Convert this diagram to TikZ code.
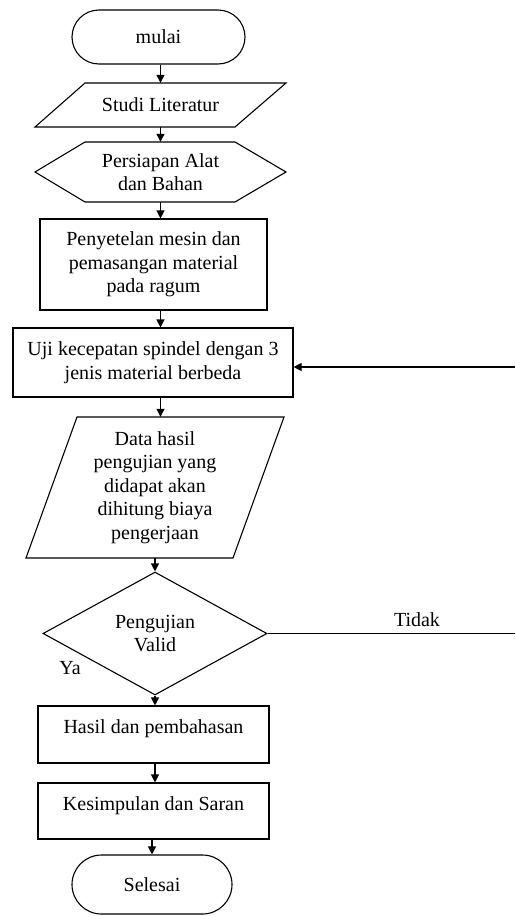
\documentclass[tikz,border=0pt]{standalone}
\usepackage{fontspec}
\setmainfont{Liberation Serif}
\usetikzlibrary{arrows.meta,shapes.geometric,calc}
\begin{document}
\begin{tikzpicture}[x=1pt,y=-1pt,
  every node/.style={font=\fontsize{20}{23.5}\selectfont, align=center, inner sep=0pt},
  line/.style={line width=1.1pt, draw=black},
  arr/.style={line, -{Triangle[length=8pt,width=8pt]}},
  boxs/.style={draw, line width=1.1pt, rectangle},
  term/.style={draw, line width=1.1pt, rectangle}
]
\fill[white] (0,0) rectangle (515,916);
\useasboundingbox (0,0) rectangle (515,916);

\node[term, minimum width=173pt, minimum height=54pt, rounded corners=27pt] (mulai) at (158.5,37) {mulai};

\node[minimum width=251pt, minimum height=44pt] (studi) at (160.5,105) {Studi Literatur};
\draw[line] ($(studi.center)+(-75.5,-22)$) -- ++(201,0) -- ++(-51,44) -- ++(-200,0) -- cycle;

\node[minimum width=251pt, minimum height=60pt] (hex) at (160.5,172) {Persiapan Alat\\dan Bahan};
\draw[line] ($(hex.center)+(-125.5,0)$) -- ++(50,-30) -- ++(150,0) -- ++(51,30) -- ++(-51,30) -- ++(-150,0) -- cycle;

\node[boxs, minimum width=227pt, minimum height=91pt] (pen) at (153.5,264.5) {Penyetelan mesin dan\\pemasangan material\\pada ragum};

\node[boxs, minimum width=280pt, minimum height=69pt] (uji) at (153,362.5) {Uji kecepatan spindel dengan 3\\jenis material berbeda};

\node[minimum width=258pt, minimum height=141pt] (data) at (155,487.5) {Data hasil\\pengujian yang\\didapat akan\\dihitung biaya\\pengerjaan};
\draw[line] ($(data.center)+(-78,-70.5)$) -- ++(207,0) -- ++(-51,141) -- ++(-207,0) -- cycle;

\node[diamond, draw, line width=1.1pt, minimum width=224pt, minimum height=123pt, aspect=1.8] (valid) at (155,633.5) {Pengujian\\Valid};

\node[boxs, minimum width=231pt, minimum height=57pt, text height=14pt, text depth=16pt] (hasil) at (153.5,734.5) {Hasil dan pembahasan};
\node[boxs, minimum width=231pt, minimum height=56pt, text height=14pt, text depth=16pt] (kes) at (153.5,811) {Kesimpulan dan Saran};

\node[term, minimum width=160pt, minimum height=59pt, rounded corners=29.5pt] (selesai) at (152,884.5) {Selesai};

\draw[arr] (studi.north |- mulai.south) -- (studi.north);
\draw[arr] (studi.south) -- (hex.north);
\draw[arr] (hex.south) -- (hex.south |- pen.north);
\draw[arr] (hex.south |- pen.south) -- (hex.south |- uji.north);
\draw[arr] (hex.south |- uji.south) -- (hex.south |- data.north);
\draw[arr] (data.south) -- (valid.north);
\draw[arr] (valid.south) -- (valid.south |- hasil.north);
\draw[arr] (valid.south |- hasil.south) -- (valid.south |- kes.north);
\draw[arr] (selesai.north |- kes.south) -- (selesai.north);

\coordinate (tidakend) at (515,633.5);
\draw[line] (valid.east) -- (tidakend);
\node (tidak) at (417,620) {Tidak};
\coordinate (loopin) at (515,367);
\draw[arr] (loopin) -- (loopin -| uji.east);
\node (ya) at (70,668) {Ya};
\end{tikzpicture}
\end{document}
